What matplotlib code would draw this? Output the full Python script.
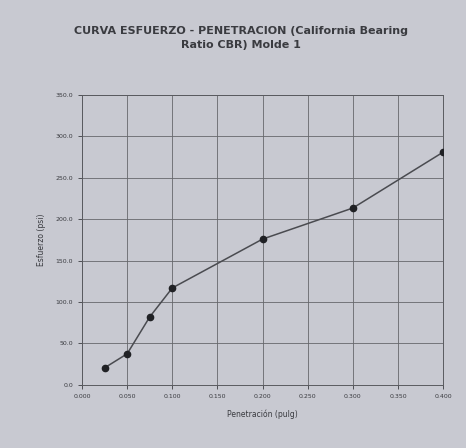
import matplotlib.pyplot as plt
import numpy as np

# datos
penetracion = [0.025, 0.050, 0.075, 0.100, 0.200, 0.300, 0.400]
esfuerzo = [20.5, 37.5, 82.0, 117.0, 176.0, 213.5, 281.0]

xticks = [0.000, 0.050, 0.100, 0.150, 0.200, 0.250, 0.300, 0.350, 0.400]
yticks = [0.0, 50.0, 100.0, 150.0, 200.0, 250.0, 300.0, 350.0]

fondo = '#c8c9d1'
tinta = '#3a3b40'

fig = plt.figure(figsize=(4.66, 4.48), dpi=100, facecolor=fondo)
ax = fig.add_axes([0.176, 0.141, 0.775, 0.647], facecolor=fondo)

ax.plot(penetracion, esfuerzo, color='#4a4b50', lw=1.1, marker='o',
        ms=4.5, mfc='#202125', mec='#202125', zorder=3)

ax.set_xlim(0, 0.4)
ax.set_ylim(0, 350)
ax.set_xticks(xticks)
ax.set_xticklabels(['%.3f' % v for v in xticks])
ax.set_yticks(yticks)
ax.set_yticklabels(['%.1f' % v for v in yticks])
ax.tick_params(labelsize=4.5, colors=tinta, length=3, width=0.6)
ax.grid(True, color='#66676c', lw=0.6)
for s in ax.spines.values():
    s.set_color('#5a5b60')
    s.set_linewidth(0.7)

ax.set_xlabel('Penetración (pulg)', fontsize=5.5, color=tinta, labelpad=8)
ax.set_ylabel('Esfuerzo (psi)', fontsize=5.5, color=tinta, labelpad=7)

fig.text(0.517, 0.915, 'CURVA ESFUERZO - PENETRACION (California Bearing\nRatio CBR) Molde 1',
         ha='center', va='center', fontsize=8, fontweight='bold',
         color=tinta, linespacing=1.45)

fig.savefig('out.png', dpi=100, facecolor=fondo)
